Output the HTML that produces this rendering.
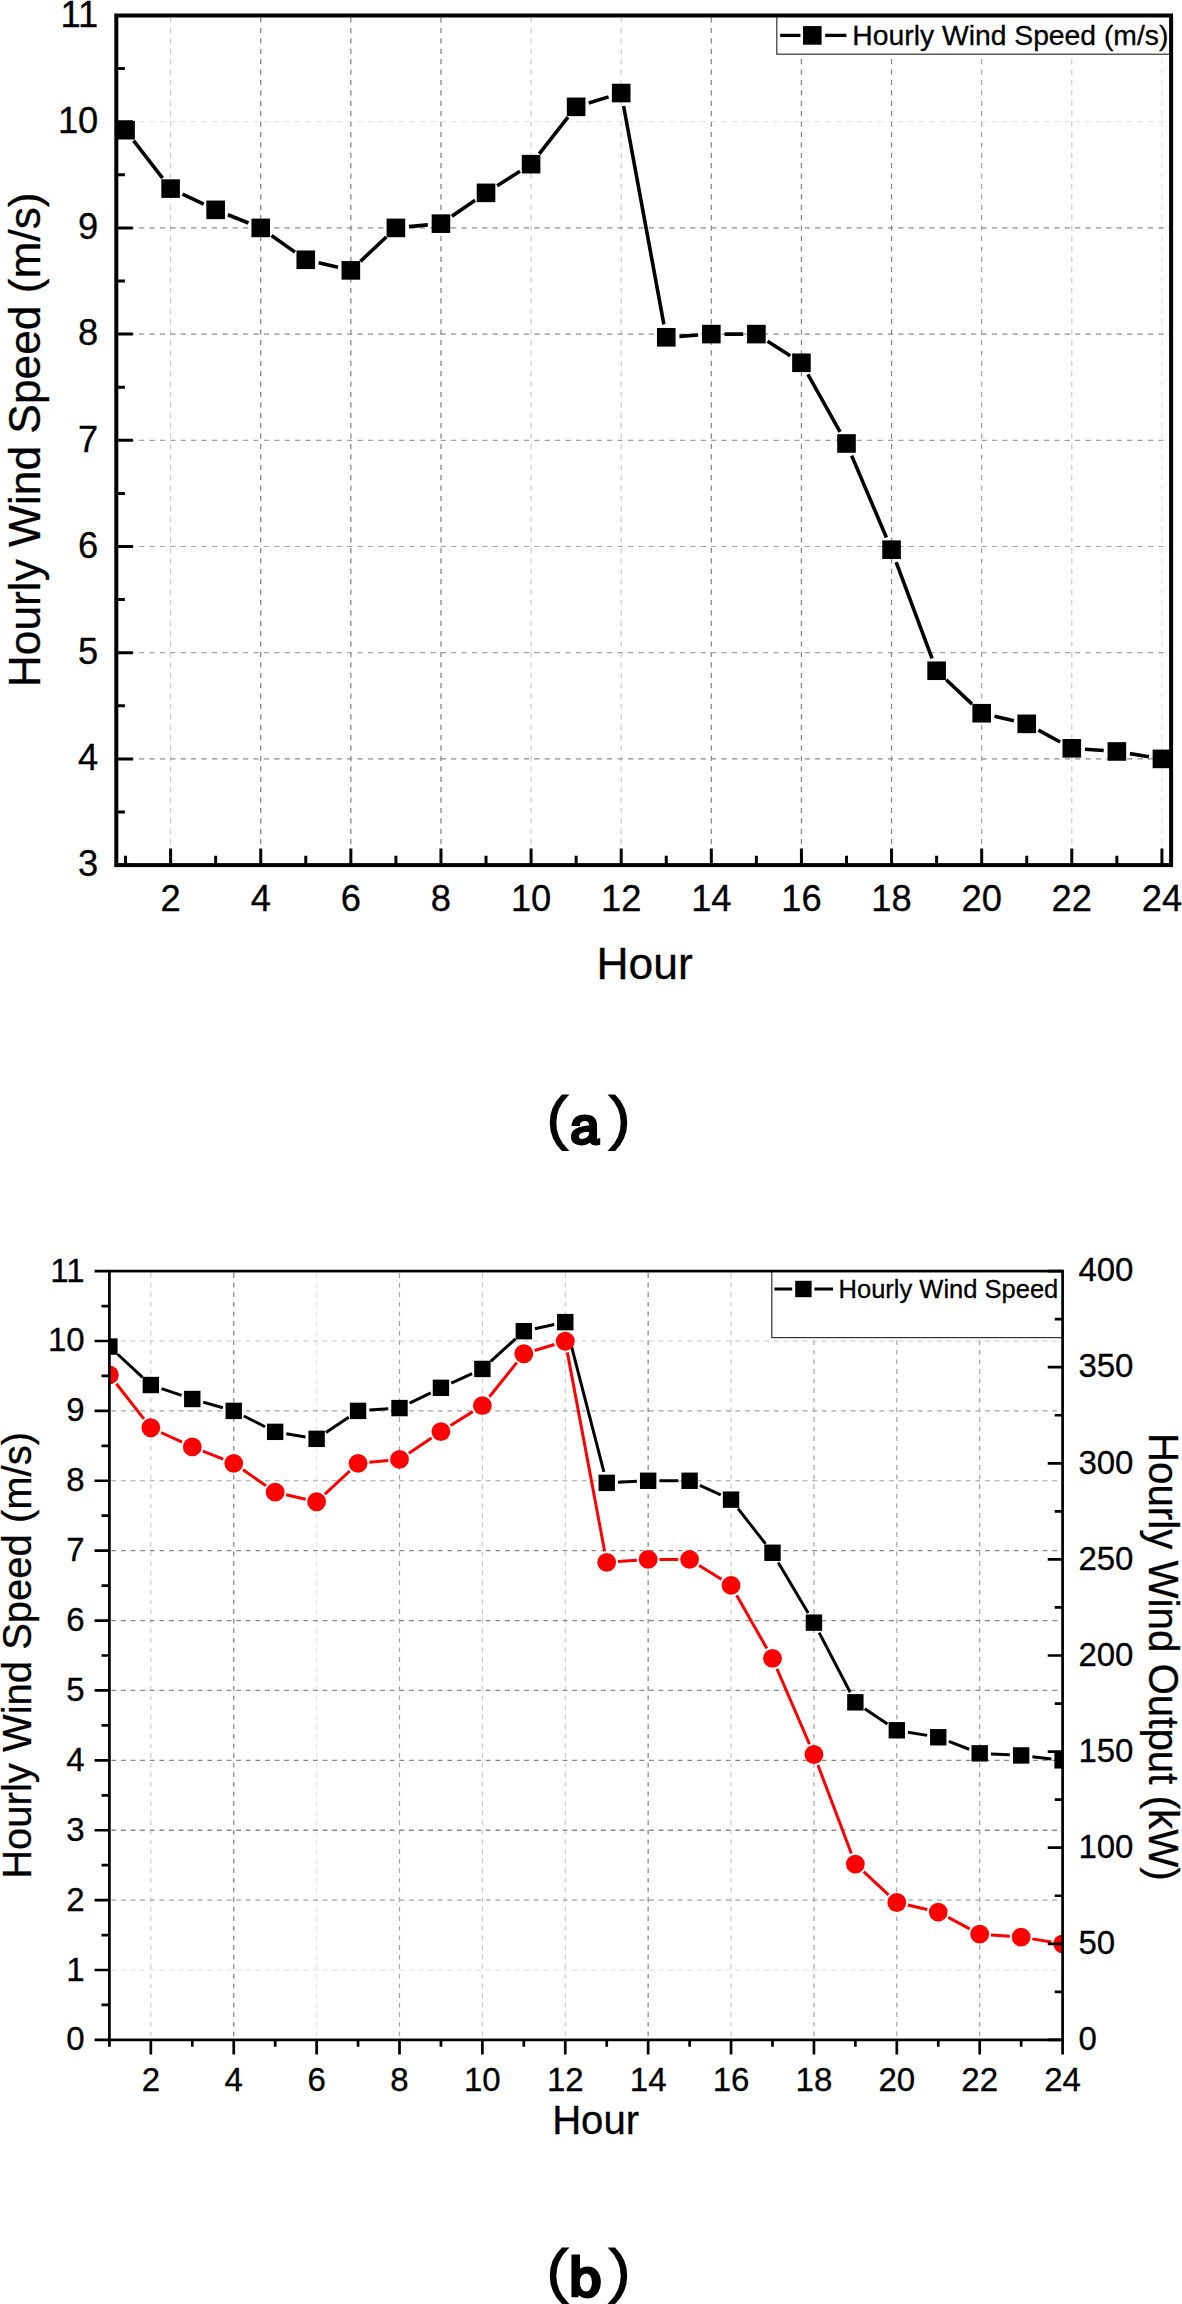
<!DOCTYPE html>
<html lang="en">
<head>
<meta charset="utf-8">
<title>Hourly wind speed and wind output</title>
<style>
html,body{margin:0;padding:0;background:#fff;}
body{width:1182px;height:2304px;overflow:hidden;}
svg{display:block;}
text{fill:#000;}
#chartA text,#chartB text{stroke:#000;stroke-width:.3px;}
</style>
</head>
<body>
<svg width="1182" height="2304" viewBox="0 0 1182 2304">
<rect width="1182" height="2304" fill="#fff"/>
<g id="chartA">
<line x1="170.6" x2="170.6" y1="17.5" y2="863.1" stroke="#c6c6c6" stroke-width="1.1" stroke-dasharray="5.2 5.2"/>
<line x1="260.72" x2="260.72" y1="17.5" y2="863.1" stroke="#8a8a8a" stroke-width="1.3" stroke-dasharray="5.2 5.2"/>
<line x1="350.84" x2="350.84" y1="17.5" y2="863.1" stroke="#8a8a8a" stroke-width="1.3" stroke-dasharray="5.2 5.2"/>
<line x1="440.96" x2="440.96" y1="17.5" y2="863.1" stroke="#8a8a8a" stroke-width="1.3" stroke-dasharray="5.2 5.2"/>
<line x1="531.08" x2="531.08" y1="17.5" y2="863.1" stroke="#c6c6c6" stroke-width="1.1" stroke-dasharray="5.2 5.2"/>
<line x1="621.2" x2="621.2" y1="17.5" y2="863.1" stroke="#c6c6c6" stroke-width="1.1" stroke-dasharray="5.2 5.2"/>
<line x1="711.32" x2="711.32" y1="17.5" y2="863.1" stroke="#8a8a8a" stroke-width="1.3" stroke-dasharray="5.2 5.2"/>
<line x1="801.44" x2="801.44" y1="17.5" y2="863.1" stroke="#8a8a8a" stroke-width="1.3" stroke-dasharray="5.2 5.2"/>
<line x1="891.56" x2="891.56" y1="17.5" y2="863.1" stroke="#8a8a8a" stroke-width="1.3" stroke-dasharray="5.2 5.2"/>
<line x1="981.68" x2="981.68" y1="17.5" y2="863.1" stroke="#a2a2a2" stroke-width="1.2" stroke-dasharray="5.2 5.2"/>
<line x1="1071.8" x2="1071.8" y1="17.5" y2="863.1" stroke="#c6c6c6" stroke-width="1.1" stroke-dasharray="5.2 5.2"/>
<line x1="1161.92" x2="1161.92" y1="17.5" y2="863.1" stroke="#dedede" stroke-width="1.0" stroke-dasharray="5.2 5.2"/>
<line x1="118.3" x2="1169.1" y1="121.7" y2="121.7" stroke="#dedede" stroke-width="1.0" stroke-dasharray="5.2 5.2"/>
<line x1="118.3" x2="1169.1" y1="227.9" y2="227.9" stroke="#8a8a8a" stroke-width="1.3" stroke-dasharray="5.2 5.2"/>
<line x1="118.3" x2="1169.1" y1="334.1" y2="334.1" stroke="#8a8a8a" stroke-width="1.3" stroke-dasharray="5.2 5.2"/>
<line x1="118.3" x2="1169.1" y1="440.3" y2="440.3" stroke="#a2a2a2" stroke-width="1.2" stroke-dasharray="5.2 5.2"/>
<line x1="118.3" x2="1169.1" y1="546.5" y2="546.5" stroke="#a2a2a2" stroke-width="1.2" stroke-dasharray="5.2 5.2"/>
<line x1="118.3" x2="1169.1" y1="652.7" y2="652.7" stroke="#a2a2a2" stroke-width="1.2" stroke-dasharray="5.2 5.2"/>
<line x1="118.3" x2="1169.1" y1="758.9" y2="758.9" stroke="#8a8a8a" stroke-width="1.3" stroke-dasharray="5.2 5.2"/>
<path d="M133.6 140.65L162.54 178.15M182.54 194.23L203.72 204.22M227.91 214.76L248.47 222.99M271.5 235.52L295 252.14M318.63 262.79L337.99 267.35M360.44 261.33L386.3 236.95M409.04 226.66L427.82 224.89M451.86 216.2L475.12 200.3M497.16 185.77L519.94 171.27M539.24 153.8L567.98 117.21M588.76 102.97L608.58 96.89M623.59 106.01L663.87 324.31M679.43 336.36L698.15 335.03M724.52 334.1L743.18 334.1M767.52 341.19L790.3 355.69M807.87 374.3L840.07 431.96M851.66 455.64L886.4 537.53M896.16 562.06L932.02 658.38M946.22 679.81L972.08 704.18M994.53 716.26L1013.89 720.83M1038.34 730.14L1060.2 741.99M1084.97 749.21L1103.69 750.54M1129.88 753.61L1148.9 756.75" stroke="#000" stroke-width="3.6" fill="none"/>
<g fill="#000"><rect x="116.24" y="120.9" width="18.6" height="18.6"/><rect x="161.3" y="179.31" width="18.6" height="18.6"/><rect x="206.36" y="200.55" width="18.6" height="18.6"/><rect x="251.42" y="218.6" width="18.6" height="18.6"/><rect x="296.48" y="250.46" width="18.6" height="18.6"/><rect x="341.54" y="261.08" width="18.6" height="18.6"/><rect x="386.6" y="218.6" width="18.6" height="18.6"/><rect x="431.66" y="214.35" width="18.6" height="18.6"/><rect x="476.72" y="183.55" width="18.6" height="18.6"/><rect x="521.78" y="154.88" width="18.6" height="18.6"/><rect x="566.84" y="97.53" width="18.6" height="18.6"/><rect x="611.9" y="83.73" width="18.6" height="18.6"/><rect x="656.96" y="327.99" width="18.6" height="18.6"/><rect x="702.02" y="324.8" width="18.6" height="18.6"/><rect x="747.08" y="324.8" width="18.6" height="18.6"/><rect x="792.14" y="353.47" width="18.6" height="18.6"/><rect x="837.2" y="434.19" width="18.6" height="18.6"/><rect x="882.26" y="540.39" width="18.6" height="18.6"/><rect x="927.32" y="661.45" width="18.6" height="18.6"/><rect x="972.38" y="703.93" width="18.6" height="18.6"/><rect x="1017.44" y="714.55" width="18.6" height="18.6"/><rect x="1062.5" y="738.98" width="18.6" height="18.6"/><rect x="1107.56" y="742.17" width="18.6" height="18.6"/><rect x="1152.62" y="749.6" width="18.6" height="18.6"/></g>
<rect x="776.8" y="15.5" width="394.3" height="38.7" fill="#fff" stroke="#333" stroke-width="1.2"/>
<path d="M780.2 35.4H800.4M825.2 35.4H846.4" stroke="#000" stroke-width="3.4"/>
<rect x="803" y="26.1" width="18.6" height="18.6" fill="#000"/>
<text x="852.3" y="45.2" font-size="28.3" font-family='"Liberation Sans", Arial, sans-serif'>Hourly Wind Speed (m/s)</text>
<rect x="116.3" y="15.5" width="1054.8" height="849.6" fill="none" stroke="#000" stroke-width="4.0"/>
<path d="M125.54 865.1v-9.3M170.6 865.1v-16.6M215.66 865.1v-9.3M260.72 865.1v-16.6M305.78 865.1v-9.3M350.84 865.1v-16.6M395.9 865.1v-9.3M440.96 865.1v-16.6M486.02 865.1v-9.3M531.08 865.1v-16.6M576.14 865.1v-9.3M621.2 865.1v-16.6M666.26 865.1v-9.3M711.32 865.1v-16.6M756.38 865.1v-9.3M801.44 865.1v-16.6M846.5 865.1v-9.3M891.56 865.1v-16.6M936.62 865.1v-9.3M981.68 865.1v-16.6M1026.74 865.1v-9.3M1071.8 865.1v-16.6M1116.86 865.1v-9.3M1161.92 865.1v-16.6M116.3 865.1h16.6M116.3 812h8.6M116.3 758.9h16.6M116.3 705.8h8.6M116.3 652.7h16.6M116.3 599.6h8.6M116.3 546.5h16.6M116.3 493.4h8.6M116.3 440.3h16.6M116.3 387.2h8.6M116.3 334.1h16.6M116.3 281h8.6M116.3 227.9h16.6M116.3 174.8h8.6M116.3 121.7h16.6M116.3 68.6h8.6M116.3 15.5h16.6" stroke="#000" stroke-width="3.0" fill="none"/>
<g font-family='"Liberation Sans", Arial, sans-serif' font-size="36.3" fill="#000">
<g text-anchor="end">
<text x="98.3" y="876.3">3</text>
<text x="98.3" y="770.1">4</text>
<text x="98.3" y="663.9">5</text>
<text x="98.3" y="557.7">6</text>
<text x="98.3" y="451.5">7</text>
<text x="98.3" y="345.3">8</text>
<text x="98.3" y="239.1">9</text>
<text x="98.3" y="132.9">10</text>
<text x="98.3" y="26.7">11</text>
</g><g text-anchor="middle">
<text x="170.6" y="911.4">2</text>
<text x="260.72" y="911.4">4</text>
<text x="350.84" y="911.4">6</text>
<text x="440.96" y="911.4">8</text>
<text x="531.08" y="911.4">10</text>
<text x="621.2" y="911.4">12</text>
<text x="711.32" y="911.4">14</text>
<text x="801.44" y="911.4">16</text>
<text x="891.56" y="911.4">18</text>
<text x="981.68" y="911.4">20</text>
<text x="1071.8" y="911.4">22</text>
<text x="1161.92" y="911.4">24</text>
</g></g>
<text x="644.6" y="979.2" text-anchor="middle" font-size="44.4" font-family='"Liberation Sans", Arial, sans-serif'>Hour</text>
<text transform="translate(40.1 439.8) rotate(-90)" text-anchor="middle" font-size="44.3" font-family='"Liberation Sans", Arial, sans-serif'>Hourly Wind Speed (m/s)</text>
</g>
<g id="capA" font-family='IPAGothic, "DejaVu Sans", sans-serif' font-weight="bold" font-size="61" fill="#000">
<text y="1146.1"><tspan x="541.3">(</tspan><tspan x="568.8" font-size="54.5" textLength="32.2" lengthAdjust="spacingAndGlyphs" stroke="#000" stroke-width="1.1">a</tspan><tspan x="605.2">)</tspan></text>
</g>
<g id="chartB">
<clipPath id="clipB"><rect x="109.4" y="1271.1" width="953.2" height="768.8"/></clipPath>
<line x1="150.84" x2="150.84" y1="1273.1" y2="2037.9" stroke="#c6c6c6" stroke-width="1.1" stroke-dasharray="4.8 4.8"/>
<line x1="233.73" x2="233.73" y1="1273.1" y2="2037.9" stroke="#8a8a8a" stroke-width="1.3" stroke-dasharray="4.8 4.8"/>
<line x1="316.62" x2="316.62" y1="1273.1" y2="2037.9" stroke="#dedede" stroke-width="1.0" stroke-dasharray="4.8 4.8"/>
<line x1="399.5" x2="399.5" y1="1273.1" y2="2037.9" stroke="#a2a2a2" stroke-width="1.2" stroke-dasharray="4.8 4.8"/>
<line x1="482.39" x2="482.39" y1="1273.1" y2="2037.9" stroke="#c6c6c6" stroke-width="1.1" stroke-dasharray="4.8 4.8"/>
<line x1="565.27" x2="565.27" y1="1273.1" y2="2037.9" stroke="#c6c6c6" stroke-width="1.1" stroke-dasharray="4.8 4.8"/>
<line x1="648.16" x2="648.16" y1="1273.1" y2="2037.9" stroke="#8a8a8a" stroke-width="1.3" stroke-dasharray="4.8 4.8"/>
<line x1="731.04" x2="731.04" y1="1273.1" y2="2037.9" stroke="#c6c6c6" stroke-width="1.1" stroke-dasharray="4.8 4.8"/>
<line x1="813.93" x2="813.93" y1="1273.1" y2="2037.9" stroke="#a2a2a2" stroke-width="1.2" stroke-dasharray="4.8 4.8"/>
<line x1="896.82" x2="896.82" y1="1273.1" y2="2037.9" stroke="#a2a2a2" stroke-width="1.2" stroke-dasharray="4.8 4.8"/>
<line x1="979.7" x2="979.7" y1="1273.1" y2="2037.9" stroke="#a2a2a2" stroke-width="1.2" stroke-dasharray="4.8 4.8"/>
<line x1="111.4" x2="1060.6" y1="1970.01" y2="1970.01" stroke="#dedede" stroke-width="1.0" stroke-dasharray="4.8 4.8"/>
<line x1="111.4" x2="1060.6" y1="1900.12" y2="1900.12" stroke="#a2a2a2" stroke-width="1.2" stroke-dasharray="4.8 4.8"/>
<line x1="111.4" x2="1060.6" y1="1830.23" y2="1830.23" stroke="#8a8a8a" stroke-width="1.3" stroke-dasharray="4.8 4.8"/>
<line x1="111.4" x2="1060.6" y1="1760.34" y2="1760.34" stroke="#8a8a8a" stroke-width="1.3" stroke-dasharray="4.8 4.8"/>
<line x1="111.4" x2="1060.6" y1="1690.45" y2="1690.45" stroke="#8a8a8a" stroke-width="1.3" stroke-dasharray="4.8 4.8"/>
<line x1="111.4" x2="1060.6" y1="1620.55" y2="1620.55" stroke="#8a8a8a" stroke-width="1.3" stroke-dasharray="4.8 4.8"/>
<line x1="111.4" x2="1060.6" y1="1550.66" y2="1550.66" stroke="#8a8a8a" stroke-width="1.3" stroke-dasharray="4.8 4.8"/>
<line x1="111.4" x2="1060.6" y1="1480.77" y2="1480.77" stroke="#a2a2a2" stroke-width="1.2" stroke-dasharray="4.8 4.8"/>
<line x1="111.4" x2="1060.6" y1="1410.88" y2="1410.88" stroke="#a2a2a2" stroke-width="1.2" stroke-dasharray="4.8 4.8"/>
<line x1="111.4" x2="1060.6" y1="1340.99" y2="1340.99" stroke="#c6c6c6" stroke-width="1.1" stroke-dasharray="4.8 4.8"/>
<g clip-path="url(#clipB)">
<path d="M117.68 1354.27L142.56 1377.34M161.55 1388.63L181.58 1395.39M203.15 1402.11L222.87 1407.77M243.81 1415.98L265.09 1426.75M286.31 1433.73L305.47 1436.96M325.98 1432.52L348.69 1417.2M369.33 1410.12L388.23 1408.85M409.65 1403.12L430.79 1392.78M451.23 1383.13L472.1 1373.63M490.74 1361.34L515.48 1338.81M534.87 1328.79L554.24 1324.54M568.09 1333.06L603.89 1471.93M618 1482.3L636.87 1481.34M659.46 1480.77L678.3 1480.77M699.89 1485.45L720.76 1494.96M738 1508.55L765.54 1543.85M778.25 1562.48L808.17 1612.93M819.15 1632.68L850.16 1692.3M864.74 1708.65L887.45 1723.96M907.96 1732.16L927.12 1735.39M948.8 1741.36L969.17 1749.26M990.99 1753.92L1009.86 1754.87M1032.37 1756.77L1051.37 1759.01" stroke="#000" stroke-width="3.0" fill="none"/>
<g fill="#000"><rect x="101.2" y="1338.38" width="16.4" height="16.4"/><rect x="142.64" y="1376.82" width="16.4" height="16.4"/><rect x="184.09" y="1390.8" width="16.4" height="16.4"/><rect x="225.53" y="1402.68" width="16.4" height="16.4"/><rect x="266.97" y="1423.65" width="16.4" height="16.4"/><rect x="308.42" y="1430.64" width="16.4" height="16.4"/><rect x="349.86" y="1402.68" width="16.4" height="16.4"/><rect x="391.3" y="1399.89" width="16.4" height="16.4"/><rect x="432.74" y="1379.62" width="16.4" height="16.4"/><rect x="474.19" y="1360.75" width="16.4" height="16.4"/><rect x="515.63" y="1323.01" width="16.4" height="16.4"/><rect x="557.07" y="1313.92" width="16.4" height="16.4"/><rect x="598.52" y="1474.67" width="16.4" height="16.4"/><rect x="639.96" y="1472.57" width="16.4" height="16.4"/><rect x="681.4" y="1472.57" width="16.4" height="16.4"/><rect x="722.84" y="1491.44" width="16.4" height="16.4"/><rect x="764.29" y="1544.56" width="16.4" height="16.4"/><rect x="805.73" y="1614.45" width="16.4" height="16.4"/><rect x="847.17" y="1694.13" width="16.4" height="16.4"/><rect x="888.62" y="1722.08" width="16.4" height="16.4"/><rect x="930.06" y="1729.07" width="16.4" height="16.4"/><rect x="971.5" y="1745.15" width="16.4" height="16.4"/><rect x="1012.95" y="1747.24" width="16.4" height="16.4"/><rect x="1054.39" y="1752.14" width="16.4" height="16.4"/></g>
<path d="M116.37 1383.78L143.87 1418.85M161.09 1432.5L182.03 1442.21M202.8 1451.11L223.22 1459.16M243.01 1469.75L265.9 1485.68M286.18 1494.68L305.61 1499.19M324.9 1494.06L349.77 1470.98M369.31 1462.26L388.25 1460.5M408.88 1453.15L431.57 1437.89M450.52 1425.59L472.81 1411.64M489.44 1396.81L516.78 1362.58M534.65 1350.48L554.45 1344.51M567.36 1352.36L604.63 1551.18M617.99 1561.5L636.89 1560.18M659.46 1559.4L678.3 1559.4M699.18 1565.4L721.47 1579.35M736.62 1595.18L766.91 1648.55M776.96 1668.76L809.46 1744.11M817.93 1765.05L851.38 1853.47M863.66 1871.72L888.53 1894.79M907.82 1905.03L927.25 1909.53M948.23 1917.4L969.73 1928.87M990.98 1934.97L1009.87 1936.29M1032.3 1938.88L1051.43 1941.99" stroke="#ff0000" stroke-width="3.0" fill="none"/>
<g fill="#ff0000"><circle cx="109.4" cy="1374.89" r="9.4"/><circle cx="150.84" cy="1427.74" r="9.4"/><circle cx="192.29" cy="1446.96" r="9.4"/><circle cx="233.73" cy="1463.3" r="9.4"/><circle cx="275.17" cy="1492.13" r="9.4"/><circle cx="316.62" cy="1501.74" r="9.4"/><circle cx="358.06" cy="1463.3" r="9.4"/><circle cx="399.5" cy="1459.46" r="9.4"/><circle cx="440.94" cy="1431.59" r="9.4"/><circle cx="482.39" cy="1405.64" r="9.4"/><circle cx="523.83" cy="1353.75" r="9.4"/><circle cx="565.27" cy="1341.25" r="9.4"/><circle cx="606.72" cy="1562.28" r="9.4"/><circle cx="648.16" cy="1559.4" r="9.4"/><circle cx="689.6" cy="1559.4" r="9.4"/><circle cx="731.04" cy="1585.35" r="9.4"/><circle cx="772.49" cy="1658.38" r="9.4"/><circle cx="813.93" cy="1754.48" r="9.4"/><circle cx="855.37" cy="1864.04" r="9.4"/><circle cx="896.82" cy="1902.48" r="9.4"/><circle cx="938.26" cy="1912.09" r="9.4"/><circle cx="979.7" cy="1934.19" r="9.4"/><circle cx="1021.15" cy="1937.07" r="9.4"/><circle cx="1062.59" cy="1943.8" r="9.4"/></g>
</g>
<rect x="771.8" y="1271.1" width="290.8" height="66.5" fill="#fff" stroke="#333" stroke-width="1.2"/>
<path d="M774.4 1289H792.2M814.4 1289H833" stroke="#000" stroke-width="3"/>
<rect x="795.2" y="1280.8" width="16.4" height="16.4" fill="#000"/>
<text x="838.6" y="1298.2" font-size="25.5" font-family='"Liberation Sans", Arial, sans-serif'>Hourly Wind Speed</text>
<rect x="109.4" y="1271.1" width="953.2" height="768.8" fill="none" stroke="#000" stroke-width="2.7"/>
<path d="M109.4 2039.9v6.95M150.84 2039.9v14.55M192.29 2039.9v6.95M233.73 2039.9v14.55M275.17 2039.9v6.95M316.62 2039.9v14.55M358.06 2039.9v6.95M399.5 2039.9v14.55M440.94 2039.9v6.95M482.39 2039.9v14.55M523.83 2039.9v6.95M565.27 2039.9v14.55M606.72 2039.9v6.95M648.16 2039.9v14.55M689.6 2039.9v6.95M731.04 2039.9v14.55M772.49 2039.9v6.95M813.93 2039.9v14.55M855.37 2039.9v6.95M896.82 2039.9v14.55M938.26 2039.9v6.95M979.7 2039.9v14.55M1021.15 2039.9v6.95M1062.59 2039.9v14.55M109.4 2039.9h-14.85M109.4 2004.95h-7.85M109.4 1970.01h-14.85M109.4 1935.06h-7.85M109.4 1900.12h-14.85M109.4 1865.17h-7.85M109.4 1830.23h-14.85M109.4 1795.28h-7.85M109.4 1760.34h-14.85M109.4 1725.39h-7.85M109.4 1690.45h-14.85M109.4 1655.5h-7.85M109.4 1620.55h-14.85M109.4 1585.61h-7.85M109.4 1550.66h-14.85M109.4 1515.72h-7.85M109.4 1480.77h-14.85M109.4 1445.83h-7.85M109.4 1410.88h-14.85M109.4 1375.94h-7.85M109.4 1340.99h-14.85M109.4 1306.04h-7.85M109.4 1271.1h-14.85M1062.6 2039.9h-14.85M1062.6 1991.85h-7.85M1062.6 1943.8h-14.85M1062.6 1895.75h-7.85M1062.6 1847.7h-14.85M1062.6 1799.65h-7.85M1062.6 1751.6h-14.85M1062.6 1703.55h-7.85M1062.6 1655.5h-14.85M1062.6 1607.45h-7.85M1062.6 1559.4h-14.85M1062.6 1511.35h-7.85M1062.6 1463.3h-14.85M1062.6 1415.25h-7.85M1062.6 1367.2h-14.85M1062.6 1319.15h-7.85M1062.6 1271.1h-14.85" stroke="#000" stroke-width="2.7" fill="none"/>
<g font-family='"Liberation Sans", Arial, sans-serif' font-size="33" fill="#000">
<g text-anchor="end">
<text x="84.6" y="2050.4">0</text>
<text x="84.6" y="1980.51">1</text>
<text x="84.6" y="1910.62">2</text>
<text x="84.6" y="1840.73">3</text>
<text x="84.6" y="1770.84">4</text>
<text x="84.6" y="1700.95">5</text>
<text x="84.6" y="1631.05">6</text>
<text x="84.6" y="1561.16">7</text>
<text x="84.6" y="1491.27">8</text>
<text x="84.6" y="1421.38">9</text>
<text x="84.6" y="1351.49">10</text>
<text x="84.6" y="1281.6">11</text>
</g><g text-anchor="start">
<text x="1078.4" y="2050.1">0</text>
<text x="1078.4" y="1954">50</text>
<text x="1078.4" y="1857.9">100</text>
<text x="1078.4" y="1761.8">150</text>
<text x="1078.4" y="1665.7">200</text>
<text x="1078.4" y="1569.6">250</text>
<text x="1078.4" y="1473.5">300</text>
<text x="1078.4" y="1377.4">350</text>
<text x="1078.4" y="1281.3">400</text>
</g><g text-anchor="middle">
<text x="150.84" y="2090.8">2</text>
<text x="233.73" y="2090.8">4</text>
<text x="316.62" y="2090.8">6</text>
<text x="399.5" y="2090.8">8</text>
<text x="482.39" y="2090.8">10</text>
<text x="565.27" y="2090.8">12</text>
<text x="648.16" y="2090.8">14</text>
<text x="731.04" y="2090.8">16</text>
<text x="813.93" y="2090.8">18</text>
<text x="896.82" y="2090.8">20</text>
<text x="979.7" y="2090.8">22</text>
<text x="1062.59" y="2090.8">24</text>
</g></g>
<text x="595.6" y="2134.4" text-anchor="middle" font-size="40.1" font-family='"Liberation Sans", Arial, sans-serif'>Hour</text>
<text transform="translate(31.4 1655.4) rotate(-90)" text-anchor="middle" font-size="40" font-family='"Liberation Sans", Arial, sans-serif'>Hourly Wind Speed (m/s)</text>
<text transform="translate(1149.2 1656.8) rotate(90) scale(1 1.045)" text-anchor="middle" font-size="40.3" font-family='"Liberation Sans", Arial, sans-serif'>Hourly Wind Output (kW)</text>
</g>
<g id="capB" font-family='IPAGothic, "DejaVu Sans", sans-serif' font-weight="bold" font-size="61" fill="#000">
<text y="2298.8"><tspan x="541.3">(</tspan><tspan x="568" font-size="57.2" textLength="34.6" lengthAdjust="spacingAndGlyphs" stroke="#000" stroke-width="1.1">b</tspan><tspan x="605.2">)</tspan></text>
</g>
</svg>
</body>
</html>
